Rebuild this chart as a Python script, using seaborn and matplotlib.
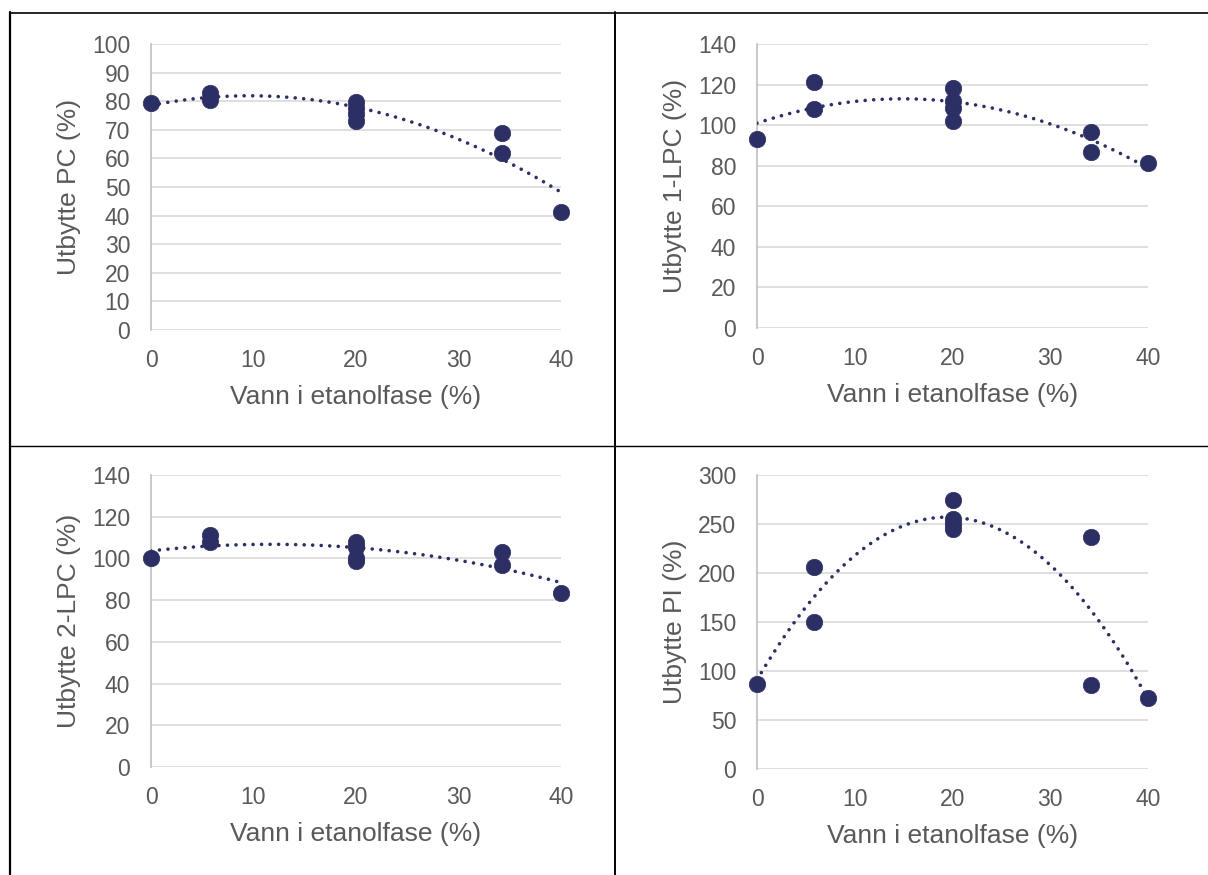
import matplotlib
matplotlib.use("Agg")
import matplotlib.pyplot as plt
import seaborn as sns
import numpy as np
import pandas as pd
from matplotlib.lines import Line2D

# ---- data ----
water = [0, 5.8, 5.8, 20, 20, 20, 20, 34.2, 34.2, 40]
yield_pc = [79.5, 82.8, 80.3, 79.8, 77.5, 75.5, 73.2, 68.8, 62.0, 41.4]
yield_1lpc = [93.3, 121.3, 108.0, 118.5, 112.0, 108.5, 102.0, 96.8, 87.0, 81.1]
yield_2lpc = [100.3, 111.3, 107.8, 108.0, 105.5, 100.0, 98.8, 103.2, 97.0, 83.2]
yield_pi = [86.7, 206.5, 150.5, 274.5, 255.0, 250.0, 245.0, 236.5, 86.0, 72.5]

ylabels = ["Utbytte PC (%)", "Utbytte 1-LPC (%)", "Utbytte 2-LPC (%)", "Utbytte PI (%)"]
xlabel = "Vann i etanolfase (%)"
xticks = [0, 10, 20, 30, 40]
yticks_list = [list(range(0, 101, 10)), list(range(0, 141, 20)),
               list(range(0, 141, 20)), list(range(0, 301, 50))]
series = [yield_pc, yield_1lpc, yield_2lpc, yield_pi]

sns.set_theme(style="white")
plt.rcParams['font.family'] = ['Liberation Sans', 'DejaVu Sans']

W, H = 1208, 875
fig = plt.figure(figsize=(W / 100, H / 100), dpi=100)

TEXT = "#595959"
GRID = "#d9d9d9"
MARK = "#2c2f63"

# axes rectangles in pixel coords: (x0, x1, ytop, ybottom)
rects = [(151, 561, 44, 330), (757, 1148, 44, 328),
         (151, 561, 475, 767), (757, 1148, 475, 769)]

for rect, ys, lab, yt in zip(rects, series, ylabels, yticks_list):
    x0, x1, yt_px, yb_px = rect
    ax = fig.add_axes([x0 / W, 1 - yb_px / H, (x1 - x0) / W, (yb_px - yt_px) / H])
    df = pd.DataFrame({"x": water, "y": ys})
    sns.regplot(data=df, x="x", y="y", order=2, ci=None, scatter=False, ax=ax,
                line_kws=dict(color=MARK, lw=2.6, linestyle=(0, (0.01, 2.35)),
                              dash_capstyle="round", zorder=3))
    sns.scatterplot(data=df, x="x", y="y", ax=ax, color=MARK, s=140,
                    edgecolor=MARK, linewidth=0.5, zorder=4, clip_on=False)
    ax.set_xlim(0, 40)
    ax.set_ylim(yt[0], yt[-1])
    ax.set_xticks(xticks)
    ax.set_yticks(yt)
    ax.yaxis.grid(True, color=GRID, lw=1.2)
    ax.xaxis.grid(False)
    ax.set_axisbelow(True)
    for s in ["top", "right", "bottom"]:
        ax.spines[s].set_visible(False)
    ax.spines["left"].set_color("#bfbfbf")
    ax.spines["left"].set_linewidth(1.2)
    ax.tick_params(axis="both", length=0, labelsize=16.5, labelcolor=TEXT)
    ax.tick_params(axis="y", pad=15)
    ax.tick_params(axis="x", pad=14)
    ax.set_xlabel(xlabel, fontsize=19, color=TEXT, labelpad=9)
    ax.set_ylabel(lab, fontsize=19, color=TEXT, labelpad=8)
    for c in ax.collections:
        c.set_clip_on(False)

# table borders
def hline(y, xa, xb, lw):
    fig.add_artist(Line2D([xa / W, xb / W], [1 - y / H, 1 - y / H], color="black", lw=lw))

def vline(x, ya, yb, lw):
    fig.add_artist(Line2D([x / W, x / W], [1 - ya / H, 1 - yb / H], color="black", lw=lw))

hline(13, 10, 1208, 1.2)
hline(446, 10, 1208, 1.0)
vline(10, 12, 875, 1.6)
vline(615, 12, 875, 1.4)

fig.savefig("out.png", dpi=100)
